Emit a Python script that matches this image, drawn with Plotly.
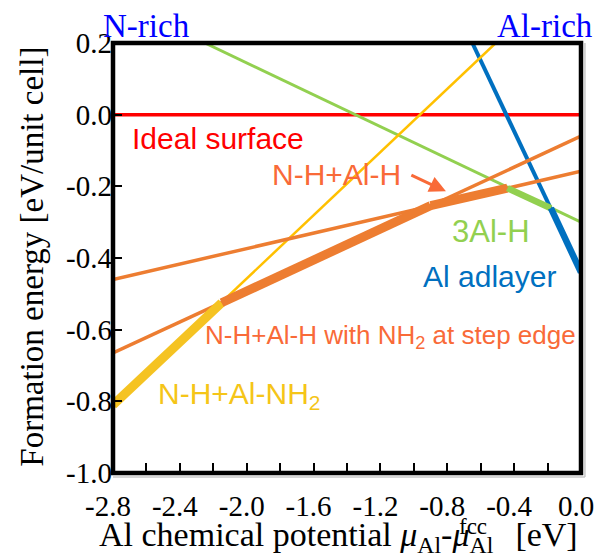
import plotly.graph_objects as go

# ---------------- tick labels ----------------
x_tick_vals = [-2.8, -2.4, -2.0, -1.6, -1.2, -0.8, -0.4, 0.0]
x_tick_text = ["-2.8", "-2.4", "-2.0", "-1.6", "-1.2", "-0.8", "-0.4", "0.0"]
x_minor_vals = [-2.6, -2.2, -1.8, -1.4, -1.0, -0.6, -0.2]
y_tick_vals = [0.2, 0.0, -0.2, -0.4, -0.6, -0.8, -1.0]
y_tick_text = ["0.2", "0.0", "-0.2", "-0.4", "-0.6", "-0.8", "-1.0"]

# ---------------- formation-energy lines (end points) ----------------
ideal_x = [-2.8, 0.0]
ideal_y = [0.0, 0.0]
step_x = [-2.8, 0.0]          # N-H+Al-H with NH2 at step edge
step_y = [-0.665, -0.06]
nhalh_x = [-2.8, 0.0]         # N-H+Al-H
nhalh_y = [-0.46, -0.158]
nh2_x = [-2.8, -0.51]         # N-H+Al-NH2
nh2_y = [-0.81, 0.2]
al3_x = [-2.25, 0.0]          # 3Al-H
al3_y = [0.2, -0.30]
adl_x = [-0.65, 0.0]          # Al adlayer
adl_y = [0.2, -0.44]

# ---------------- most stable envelope ----------------
env_nh2_x = [-2.8, -2.15]
env_nh2_y = [-0.81, -0.525]
env_step_x = [-2.15, -0.90]
env_step_y = [-0.525, -0.254]
env_nhalh_x = [-0.90, -0.44]
env_nhalh_y = [-0.254, -0.205]
env_al3_x = [-0.44, -0.18]
env_al3_y = [-0.205, -0.261]
env_adl_x = [-0.18, 0.0]
env_adl_y = [-0.261, -0.44]

RED = "#FF0000"
GREEN = "#92D050"
BLUE = "#0070C0"
YELLOW = "#FFC000"
YELLOW_THICK = "#F5C322"
ORANGE = "#ED7D31"
ORANGE_TXT = "#F96A38"
NAVY = "#0000FF"

fig = go.Figure()


def add_line(x, y, color, width):
    fig.add_trace(go.Scatter(x=x, y=y, mode="lines",
                             line=dict(color=color, width=width),
                             hoverinfo="skip", showlegend=False))


# thin lines
add_line(ideal_x, ideal_y, RED, 3.5)
add_line(al3_x, al3_y, GREEN, 3)
add_line(adl_x, adl_y, BLUE, 4)
add_line(nh2_x, nh2_y, YELLOW, 2.5)
add_line(step_x, step_y, ORANGE, 3.5)
add_line(nhalh_x, nhalh_y, ORANGE, 3.5)

# thick envelope
add_line(env_nh2_x, env_nh2_y, YELLOW_THICK, 9)
add_line(env_step_x, env_step_y, ORANGE, 9)
add_line(env_nhalh_x, env_nhalh_y, ORANGE, 9)
add_line(env_al3_x, env_al3_y, GREEN, 6.5)
add_line(env_adl_x, env_adl_y, BLUE, 6.5)

serif = "Liberation Serif"
sans = "Liberation Sans"

fig.update_layout(
    width=606, height=557,
    margin=dict(l=113, r=17, t=43, b=84),
    plot_bgcolor="white", paper_bgcolor="white",
    showlegend=False,
)
fig.update_xaxes(
    range=[-2.8, 0.0], tickmode="array", tickvals=x_tick_vals, ticktext=x_tick_text,
    ticks="inside", ticklen=10, tickwidth=2, tickcolor="black",
    minor=dict(tickmode="array", tickvals=x_minor_vals, ticks="inside", ticklen=10,
               tickwidth=2, tickcolor="black"),
    showgrid=False, zeroline=False, showline=False, ticklabelstandoff=13,
    ticklabelshift=-5, ticklabeloverflow="allow",
    tickfont=dict(family=serif, size=29, color="black"),
)
fig.update_yaxes(
    range=[-1.0, 0.2], tickmode="array", tickvals=y_tick_vals, ticktext=y_tick_text,
    ticks="inside", ticklen=9, tickwidth=2, tickcolor="black",
    showgrid=False, zeroline=False, showline=False, ticklabeloverflow="allow",
    tickfont=dict(family=serif, size=29, color="black"),
)

# faint grey shadow of the frame (right and bottom)
fig.add_shape(type="line", xref="paper", yref="paper", x0=1 + 4 / 476, x1=1 + 4 / 476,
              y0=-4 / 430, y1=1, line=dict(color="#C8C8C8", width=1.5), layer="above")
fig.add_shape(type="line", xref="paper", yref="paper", x0=0, x1=1 + 4 / 476,
              y0=-4 / 430, y1=-4 / 430, line=dict(color="#C8C8C8", width=1.5), layer="above")
# frame
fig.add_shape(type="rect", xref="paper", yref="paper", x0=0, y0=0, x1=1, y1=1,
              line=dict(color="black", width=4.5), layer="above")

ann = []


def label(text, x, y, color, size, xanchor="center", family=sans, xref="x", yref="y", angle=0):
    ann.append(dict(text=text, x=x, y=y, xref=xref, yref=yref, showarrow=False,
                    xanchor=xanchor, yanchor="middle", textangle=angle,
                    font=dict(family=family, size=size, color=color)))


label("Ideal surface", -2.70, -0.067, RED, 30, xanchor="left")
label("N-H+Al-H", -1.46, -0.167, ORANGE_TXT, 30)
label("3Al-H", -0.54, -0.327, GREEN, 31)
label("Al adlayer", -0.55, -0.452, BLUE, 30)
label("N-H+Al-H with NH<sub>2</sub> at step edge", -1.14, -0.62, ORANGE_TXT, 26)
label("N-H+Al-NH<sub>2</sub>", -2.54, -0.785, "#F5C518", 30, xanchor="left")

# N-rich / Al-rich
label("N-rich", -0.025, 1.04, NAVY, 33, xanchor="left", family=serif, xref="paper", yref="paper")
label("Al-rich", 1.029, 1.04, NAVY, 33, xanchor="right", family=serif, xref="paper", yref="paper")

# axis titles
label("Formation energy [eV/unit cell]", -0.172, 0.502, "black", 33, family=serif,
      xref="paper", yref="paper", angle=-90)
label("Al chemical potential <i>μ</i><sub>Al</sub>-<i>μ</i><sub>Al</sub>&#8201;&#8201; [eV]", 0.482, -0.148,
      "black", 34, family=serif, xref="paper", yref="paper")
label("fcc", 0.734, -0.125, "black", 23, xanchor="left", family=serif, xref="paper", yref="paper")

# arrow
ann.append(dict(text="", x=-0.808, y=-0.214, ax=-1.024, ay=-0.167, xref="x", yref="y",
                axref="x", ayref="y", showarrow=True, arrowhead=2, arrowsize=1.1,
                arrowwidth=3, arrowcolor=ORANGE_TXT, standoff=0))

fig.update_layout(annotations=ann)
fig.write_html("out.html", config={"displayModeBar": False},
               post_script="document.body.style.margin='0px';")
